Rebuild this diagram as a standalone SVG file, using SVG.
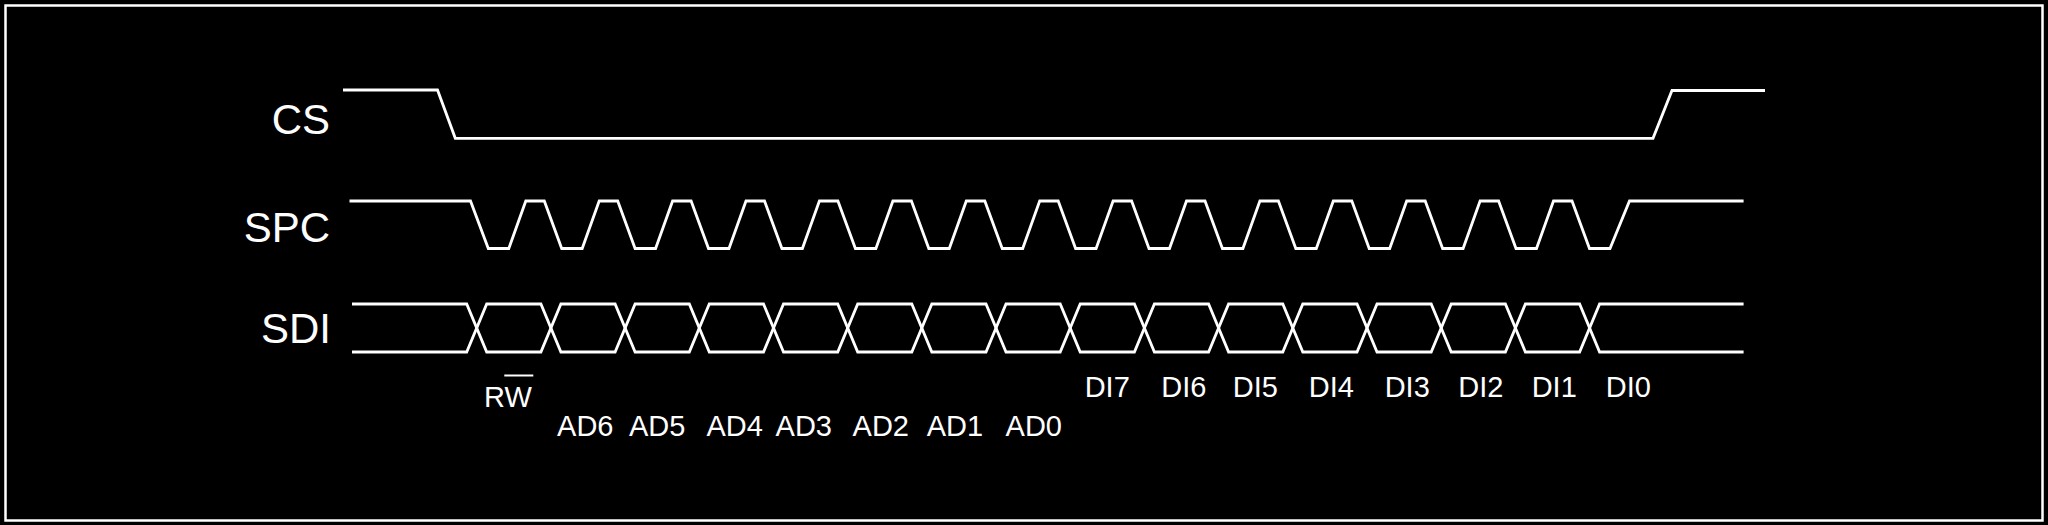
<svg xmlns="http://www.w3.org/2000/svg" width="2048" height="525" viewBox="0 0 2048 525">
  <style>
    .sig { fill: none; stroke: #ffffff; stroke-width: 2.8; stroke-linejoin: miter; }
    .name { font-family: "Liberation Sans", Arial, sans-serif; font-size: 42px; fill: #ffffff; text-anchor: end; }
    .bit { font-family: "Liberation Sans", Arial, sans-serif; font-size: 29px; fill: #ffffff; text-anchor: middle; }
  </style>
  <rect x="0" y="0" width="2048" height="525" fill="#000000"/>
  <rect id="frame" x="5.5" y="5.5" width="2037" height="515" fill="none" stroke="#ffffff" stroke-width="2.5"/>

  <g id="labels">
    <text class="name" x="330" y="133.5">CS</text>
    <text class="name" x="330" y="241.5">SPC</text>
    <text class="name" x="331" y="342.5">SDI</text>
  </g>

  <g id="connectors">
    <g id="cs-wave">
      <path class="sig" d="M343,90 H437.5 L455.3,138.3 H1653 L1672,90.5 H1765"/>
    </g>
    <g id="spc-wave">
      <path class="sig" d="M349.5,201 H470.5 L488.3,248.5 H508.8 L525.8,201 H544.3 L561.7,248.5 H582.2 L599.2,201 H617.7 L635.1,248.5 H655.6 L672.6,201 H691.1 L708.5,248.5 H729 L746,201 H764.5 L781.9,248.5 H802.4 L819.4,201 H837.9 L855.4,248.5 H875.9 L892.9,201 H911.4 L928.8,248.5 H949.3 L966.3,201 H984.8 L1002.2,248.5 H1022.7 L1039.7,201 H1058.2 L1075.6,248.5 H1096.1 L1113.1,201 H1131.6 L1149,248.5 H1169.5 L1186.5,201 H1205 L1222.4,248.5 H1242.9 L1259.9,201 H1278.4 L1295.8,248.5 H1316.3 L1333.3,201 H1351.8 L1369.2,248.5 H1389.7 L1406.7,201 H1425.2 L1442.6,248.5 H1463.1 L1480.1,201 H1498.6 L1516,248.5 H1536.5 L1553.5,201 H1572 L1589.5,248.5 H1610 L1629.5,201 H1743.6"/>
    </g>
    <g id="sdi-wave">
      <path class="sig" d="M352,304 H466.7 L486.7,352 H540.9 L560.9,304 H615.1 L635.1,352 H689.3 L709.3,304 H763.5 L783.5,352 H837.7 L857.7,304 H911.8 L931.8,352 H986 L1006,304 H1060.2 L1080.2,352 H1134.4 L1154.4,304 H1208.6 L1228.6,352 H1282.8 L1302.8,304 H1357 L1377,352 H1431.2 L1451.2,304 H1505.4 L1525.4,352 H1579.6 L1599.6,304 H1743.6"/>
      <path class="sig" d="M352,352 H466.7 L486.7,304 H540.9 L560.9,352 H615.1 L635.1,304 H689.3 L709.3,352 H763.5 L783.5,304 H837.7 L857.7,352 H911.8 L931.8,304 H986 L1006,352 H1060.2 L1080.2,304 H1134.4 L1154.4,352 H1208.6 L1228.6,304 H1282.8 L1302.8,352 H1357 L1377,304 H1431.2 L1451.2,352 H1505.4 L1525.4,304 H1579.6 L1599.6,352 H1743.6"/>
    </g>
  </g>

  <g id="bit-labels">
    <g id="rw">
      <text class="bit" x="508" y="406.5">RW</text>
      <line x1="504.3" y1="375.5" x2="533.3" y2="375.5" stroke="#ffffff" stroke-width="2"/>
    </g>
    <text class="bit" x="585.3" y="436">AD6</text>
    <text class="bit" x="657.2" y="436">AD5</text>
    <text class="bit" x="734.7" y="436">AD4</text>
    <text class="bit" x="803.8" y="436">AD3</text>
    <text class="bit" x="880.8" y="436">AD2</text>
    <text class="bit" x="955" y="436">AD1</text>
    <text class="bit" x="1033.8" y="436">AD0</text>
    <text class="bit" x="1107.2" y="397">DI7</text>
    <text class="bit" x="1183.8" y="397">DI6</text>
    <text class="bit" x="1255.3" y="397">DI5</text>
    <text class="bit" x="1331.3" y="397">DI4</text>
    <text class="bit" x="1407.2" y="397">DI3</text>
    <text class="bit" x="1480.8" y="397">DI2</text>
    <text class="bit" x="1554.2" y="397">DI1</text>
    <text class="bit" x="1628.3" y="397">DI0</text>
  </g>
</svg>
